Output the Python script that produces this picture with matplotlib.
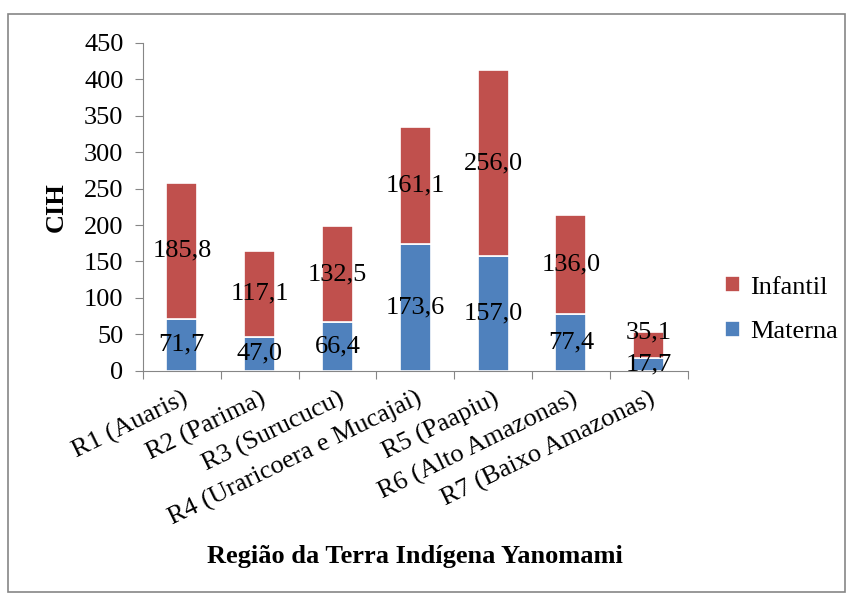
import matplotlib.pyplot as plt
import numpy as np
from matplotlib.patches import Rectangle

regioes = ["R1 (Auaris)", "R2 (Parima)", "R3 (Surucucu)", "R4 (Uraricoera e Mucajai)",
           "R5 (Paapiu)", "R6 (Alto Amazonas)", "R7 (Baixo Amazonas)"]
materna = [71.7, 47.0, 66.4, 173.6, 157.0, 77.4, 17.7]
infantil = [185.8, 117.1, 132.5, 161.1, 256.0, 136.0, 35.1]

plt.rcParams['font.family'] = ['Liberation Serif', 'DejaVu Serif']
fs = 19

fig = plt.figure(figsize=(8.51, 5.97), dpi=100)
ax = fig.add_axes([0.168, 0.379, 0.64, 0.549])

x = np.arange(len(regioes))
azul = "#4F81BD"
vermelho = "#C0504D"

b1 = ax.bar(x, materna, 0.4, color=azul, edgecolor="white", linewidth=1.2, label="Materna")
b2 = ax.bar(x, infantil, 0.4, bottom=materna, color=vermelho, edgecolor="white", linewidth=1.2, label="Infantil")

fmt = lambda v: ("%.1f" % v).replace(".", ",")
ax.bar_label(b1, labels=[fmt(v) for v in materna], label_type="center", fontsize=fs)
t2 = ax.bar_label(b2, labels=[fmt(v) for v in infantil], label_type="center", fontsize=fs)
# small last segment: label sits a bit higher, as in the original
t2[-1].xyann = (0, 9)

ax.set_xlim(-0.5, len(regioes) - 0.5)
ax.set_ylim(0, 450)
ax.set_yticks(np.arange(0, 451, 50))
ax.tick_params(axis="y", labelsize=fs, length=6, color="#868686", pad=8)
ax.set_xticks(np.arange(-0.5, len(regioes), 1), minor=False)
ax.set_xticklabels([])
ax.set_xticks(x, minor=True)
ax.set_xticklabels(regioes, minor=True, rotation=26, ha="right", rotation_mode="anchor", fontsize=fs)
ax.tick_params(axis="x", which="major", length=6, color="#868686")
ax.tick_params(axis="x", which="minor", length=0, pad=12)

for s in ["top", "right"]:
    ax.spines[s].set_visible(False)
for s in ["left", "bottom"]:
    ax.spines[s].set_color("#868686")

ax.set_ylabel("CIH", fontsize=fs, fontweight="bold", labelpad=12)
fig.text(0.488, 0.068, "Região da Terra Indígena Yanomami", ha="center", va="center",
         fontsize=fs, fontweight="bold")

handles, labels = ax.get_legend_handles_labels()
fig.legend(handles[::-1], labels[::-1], loc="center left", bbox_to_anchor=(0.852, 0.481),
           frameon=False, fontsize=fs, handlelength=0.55, handleheight=0.55, handletextpad=0.4,
           labelspacing=0.85, borderpad=0, borderaxespad=0)

fig.patches.append(Rectangle((0.009, 0.008), 0.984, 0.969, transform=fig.transFigure,
                             fill=False, edgecolor="#868686", linewidth=1.2))

fig.savefig("out.png", dpi=100)
